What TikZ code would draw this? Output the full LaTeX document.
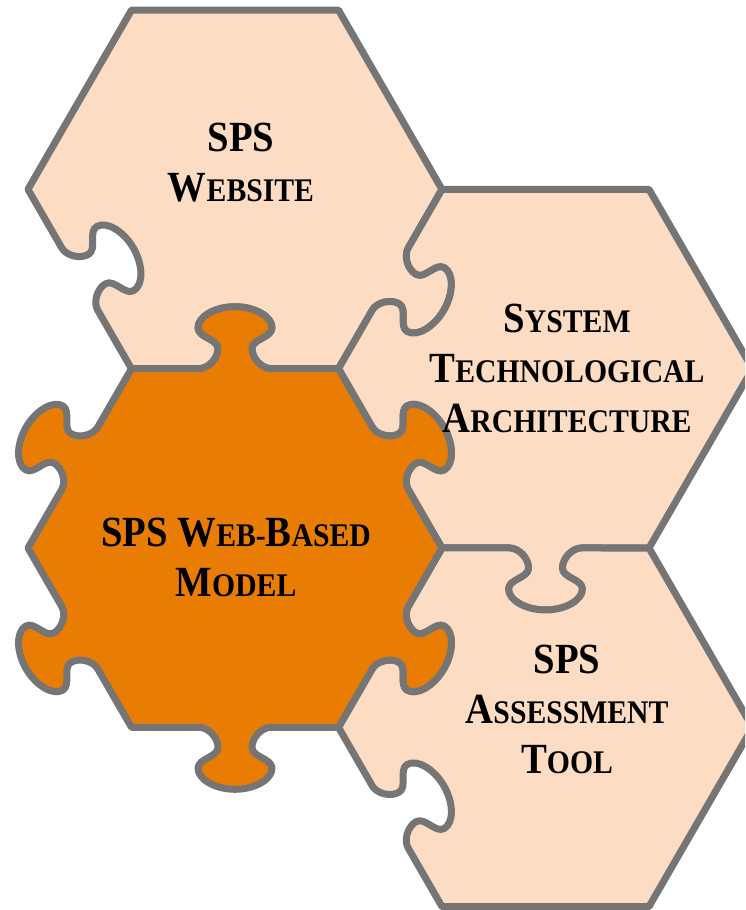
\documentclass[tikz,border=0pt]{standalone}
\usepackage{fontspec}
\setmainfont{Liberation Serif}[FakeStretch=0.9]
\usetikzlibrary{calc}

\definecolor{peach}{RGB}{252,221,196}
\definecolor{hub}{RGB}{233,125,3}
\definecolor{rim}{RGB}{117,117,117}

% one side of a piece, drawn in the frame of that side
\newcommand{\flatside}{-- (0,0)}
\newcommand{\knob}{-- (0,-36) .. controls (0,-27) and (10,-17) .. (20,-17)
  .. controls (30,-17) and (31,-37) .. (41,-37)
  .. controls (52,-37) and (62,-20) .. (62,0)
  .. controls (62,20) and (52,37) .. (41,37)
  .. controls (31,37) and (30,17) .. (20,17)
  .. controls (10,17) and (0,27) .. (0,36)}
% #1 style, #2 centre, #3 list side/sign/shape
\newcommand{\puzzlepiece}[3]{%
  \path[#1] ($(#2)+(207,0)$)
    \foreach \k/\s/\e in {#3} {{[shift={(#2)},rotate=60*\k+30,xshift=179.3,xscale=\s] \e -- (0,103.5)}}
    -- cycle;}
\newcommand{\smc}[2]{#1{\fontsize{33}{50}\selectfont #2}}

\begin{document}
\begin{tikzpicture}[x=1pt,y=1pt,
  piece/.style={draw=rim,line width=7pt,line join=round},
  tagtext/.style={font=\bfseries\fontsize{43}{50}\selectfont,align=center,inner sep=0pt}]

  \useasboundingbox (0,0) rectangle (745,910);
  \clip (0,0) rectangle (745,910);

  \coordinate (web) at (235,720.6);
  \coordinate (arch) at (545.5,541.3);
  \coordinate (tool) at (545.5,182.7);
  \coordinate (model) at (235,362);

  % outer pieces
  \puzzlepiece{piece,fill=peach}{web}{0/1/\flatside,1/1/\flatside,2/1/\flatside,3/-1/\knob,4/-1/\knob,5/1/\knob}
  \puzzlepiece{piece,fill=peach}{arch}{0/1/\flatside,1/1/\flatside,2/-1/\knob,3/-1/\knob,4/1/\knob,5/1/\flatside}
  \puzzlepiece{piece,fill=peach}{tool}{0/1/\flatside,1/-1/\knob,2/-1/\knob,3/-1/\knob,4/1/\flatside,5/1/\flatside}
  % centre piece
  \puzzlepiece{piece,fill=hub}{model}{0/1/\knob,1/1/\knob,2/1/\knob,3/1/\knob,4/1/\knob,5/1/\knob}

  \node[tagtext,xshift=6,yshift=27] (webtext) at (web) {SPS\\\smc{W}{EBSITE}};
  \node[tagtext,xshift=21.5,yshift=0.7] (archtext) at (arch) {\smc{S}{YSTEM}\\\smc{T}{ECHNOLOGICAL}\\\smc{A}{RCHITECTURE}};
  \node[tagtext,xshift=21.5,yshift=17.8] (tooltext) at (tool) {SPS\\\smc{A}{SSESSMENT}\\\smc{T}{OOL}};
  \node[tagtext,xshift=1,yshift=-9.5] (modeltext) at (model) {SPS \smc{W}{EB-}\smc{B}{ASED}\\\smc{M}{ODEL}};

\end{tikzpicture}
\end{document}
